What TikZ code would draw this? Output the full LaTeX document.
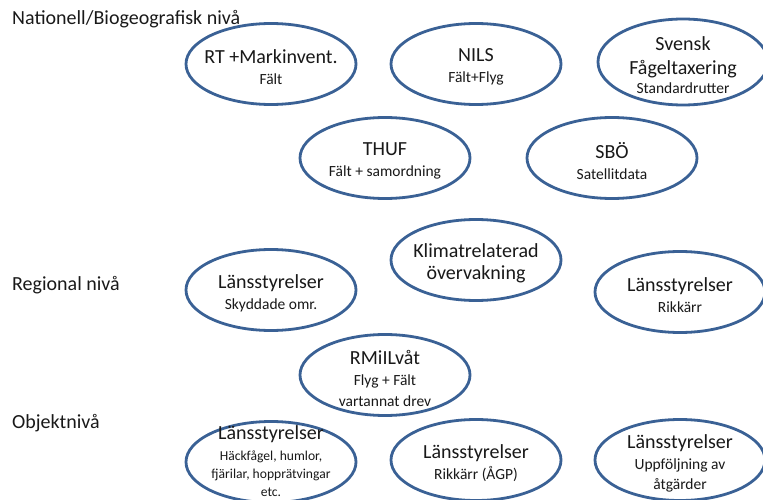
\documentclass[tikz,border=0pt]{standalone}
\usepackage{fontspec}
\setmainfont{Carlito}
\usetikzlibrary{shapes.geometric}
\definecolor{ovalblue}{HTML}{3A6195}
\newcommand{\subtxt}{\fontsize{15.5}{19}\selectfont}
\newcommand{\tinytxt}{\fontsize{13.6}{16}\selectfont}
\begin{document}
\begin{tikzpicture}[x=1pt, y=-1pt, font=\fontsize{20}{23}\selectfont, line join=round, line cap=round,
	oval/.style={ellipse, draw=ovalblue, line width=2.8pt, fill=white, minimum width=170pt, minimum height=81pt, inner sep=0pt},
	txt/.style={align=center, inner sep=0pt, text=black!90}]
	\useasboundingbox (0,0) rectangle (763,500);
	\clip (0,0) rectangle (763,500);
	\path
	(271,64) coordinate (RT)
	(476,64) coordinate (NILS)
	(683,62) coordinate (SFT)
	(385,158) coordinate (THUF)
	(612,158) coordinate (SBO)
	(476,260) coordinate (KLIM)
	(271,290) coordinate (LSS)
	(680,292) coordinate (LSR)
	(385,375) coordinate (RMI)
	(271,462) coordinate (LSH)
	(476,460) coordinate (LSA)
	(680,460) coordinate (LSU)
	;
	% levels
	\node[txt, anchor=base west] (nat) at (12,25) {Nationell/Biogeografisk nivå};
	\node[txt, anchor=base west] (reg) at (12,290) {Regional nivå};
	\node[txt, anchor=base west] (obj) at (12,428) {Objektnivå};
	% ovals
	\foreach \c in {RT,NILS,THUF,SBO,KLIM,LSS,LSR,RMI,LSH,LSA,LSU}
	\node[oval] (\c-o) at (\c) {};
	\node[oval, minimum height=86pt] (SFT-o) at (SFT) {};
	% texts
	\node[txt] (RT-t) at ([yshift=-3]RT) {RT +Markinvent.\\[-2pt]{\subtxt Fält}};
	\node[txt] (NILS-t) at ([yshift=-3]NILS) {NILS\\[-2pt]{\subtxt Fält+Flyg}};
	\node[txt] (SFT-t) at ([yshift=-3]SFT) {Svensk\\[1pt]Fågeltaxering\\[-4pt]{\subtxt Standardrutter}};
	\node[txt] (THUF-t) at ([yshift=-3]THUF) {THUF\\[-2pt]{\subtxt Fält + samordning}};
	\node[txt] (SBO-t) at ([yshift=-3]SBO) {SBÖ\\[-2pt]{\subtxt Satellitdata}};
	\node[txt] (KLIM-t) at ([yshift=-3]KLIM) {Klimatrelaterad\\[-1pt]övervakning};
	\node[txt] (LSS-t) at ([yshift=-3]LSS) {Länsstyrelser\\[-2pt]{\subtxt Skyddade omr.}};
	\node[txt] (LSR-t) at ([yshift=-3]LSR) {Länsstyrelser\\[-2pt]{\subtxt Rikkärr}};
	\node[txt] (RMI-t) at ([yshift=-3]RMI) {RMiILvåt\\[-2pt]{\subtxt Flyg + Fält}\\[-2pt]{\subtxt vartannat drev}};
	\node[txt] (LSH-t) at ([yshift=1]LSH) {Länsstyrelser\\[-2pt]{\tinytxt Häckfågel, humlor,}\\[-5pt]{\tinytxt fjärilar, hopprätvingar}\\[-5pt]{\tinytxt etc.}};
	\node[txt] (LSA-t) at ([yshift=-3]LSA) {Länsstyrelser\\[-2pt]{\subtxt Rikkärr (ÅGP)}};
	\node[txt] (LSU-t) at ([yshift=-3]LSU) {Länsstyrelser\\[-2pt]{\subtxt Uppföljning av}\\[-3pt]{\subtxt åtgärder}};
\end{tikzpicture}
\end{document}
